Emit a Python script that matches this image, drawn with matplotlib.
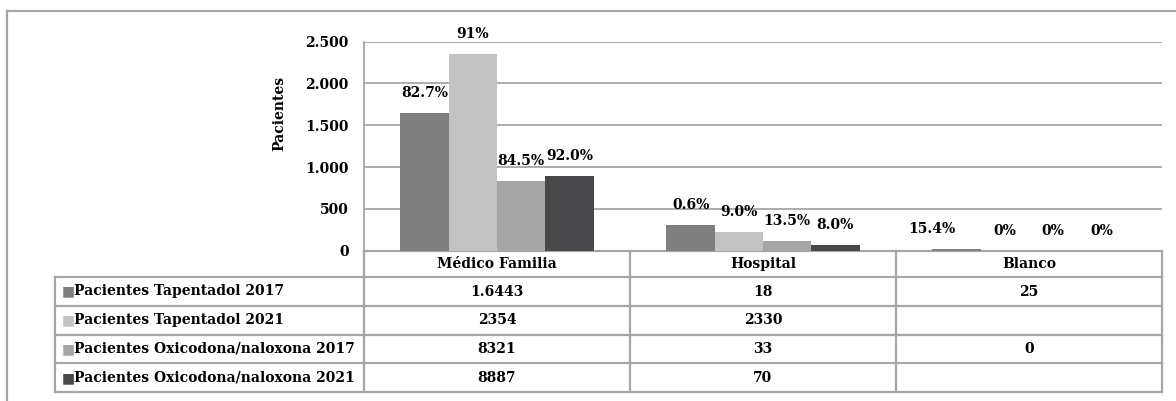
import numpy as np
import matplotlib
matplotlib.use("Agg")
import matplotlib.pyplot as plt
from matplotlib.ticker import FuncFormatter
from matplotlib.transforms import blended_transform_factory

plt.rcParams['font.family'] = ['DejaVu Serif']
plt.rcParams['font.weight'] = 'bold'

# data
categories = ["Médico Familia", "Hospital", "Blanco"]
series = ["Pacientes Tapentadol 2017", "Pacientes Tapentadol 2021",
          "Pacientes Oxicodona/naloxona 2017", "Pacientes Oxicodona/naloxona 2021"]
tap_2017 = [1644, 308, 22]
tap_2021 = [2354, 220, 0]
oxi_2017 = [832, 120, 0]
oxi_2021 = [889, 65, 0]
pct_tap_2017 = ["82.7%", "0.6%", "15.4%"]
pct_tap_2021 = ["91%", "9.0%", "0%"]
pct_oxi_2017 = ["84.5%", "13.5%", "0%"]
pct_oxi_2021 = ["92.0%", "8.0%", "0%"]
tbl_tap_2017 = ["1.6443", "18", "25"]
tbl_tap_2021 = ["2354", "2330", ""]
tbl_oxi_2017 = ["8321", "33", "0"]
tbl_oxi_2021 = ["8887", "70", ""]

values = [tap_2017, tap_2021, oxi_2017, oxi_2021]
pcts = [pct_tap_2017, pct_tap_2021, pct_oxi_2017, pct_oxi_2021]
table_rows = [tbl_tap_2017, tbl_tap_2021, tbl_oxi_2017, tbl_oxi_2021]
colors = ["#7f7f7f", "#c3c3c4", "#a5a5a5", "#48484a"]
line_col = "#a6a6a6"
fs = 10

W, H = 1176, 401
fig = plt.figure(figsize=(W / 100, H / 100), dpi=100)


def fy(y):
    return 1 - y / H


# outer chart frame (runs off the right and bottom edges)
fig.add_artist(plt.Line2D([7 / W, 1.0], [fy(11), fy(11)], color=line_col, lw=1.6))
fig.add_artist(plt.Line2D([7 / W, 7 / W], [fy(11), 0.0], color=line_col, lw=1.6))

ax_left, ax_right, ax_top, ax_bot = 364, 1162, 41.7, 250.7
ax = fig.add_axes([ax_left / W, fy(ax_bot), (ax_right - ax_left) / W, (ax_bot - ax_top) / H])

x = np.arange(len(categories))
bw = 0.1815
for i, (vals, c) in enumerate(zip(values, colors)):
    bars = ax.bar(x + (i - 1.5) * bw, vals, width=bw, color=c, zorder=3)
    for j, (b, lab) in enumerate(zip(bars, pcts[i])):
        dx = -25 if (i == 0 and j == 2) else 0
        ax.annotate(lab, (b.get_x() + b.get_width() / 2, b.get_height()),
                    xytext=(dx, 20), textcoords='offset pixels',
                    ha='center', va='center', fontsize=fs, fontweight='bold')

ax.set_xlim(-0.5, 2.5)
ax.set_ylim(0, 2500)
ax.set_yticks(np.arange(0, 2501, 500))
ax.yaxis.set_major_formatter(FuncFormatter(lambda v, p: f"{int(v):,}".replace(",", ".")))
ax.yaxis.grid(True, color=line_col, lw=1.3, zorder=0)
ax.set_xticks([])
ax.tick_params(axis='y', length=0, pad=11, labelsize=fs)
for s in ["top", "right", "bottom"]:
    ax.spines[s].set_visible(False)
ax.spines["left"].set_color(line_col)
ax.spines["left"].set_linewidth(1.3)
ax.set_ylabel("Pacientes", fontsize=fs, fontweight='bold')
ax.yaxis.set_label_coords((286 - ax_left) / (ax_right - ax_left), (ax_bot - 113) / (ax_bot - ax_top))

# data table below the plot
tr = blended_transform_factory(ax.transData, fig.transFigure)
row_y = [250.7, 277, 306, 334.5, 363.3, 392.3]
legend_left = -0.5 - (ax_left - 55) / ((ax_right - ax_left) / 3)
edges = [-0.5, 0.5, 1.5, 2.5]

# horizontal lines
ax.plot([-0.5, 2.5], [fy(row_y[0])] * 2, transform=tr, color=line_col, lw=1.6, clip_on=False)
for y in row_y[1:]:
    ax.plot([legend_left, 2.5], [fy(y)] * 2, transform=tr, color=line_col, lw=1.6, clip_on=False)
# vertical lines
for e in edges:
    ax.plot([e, e], [fy(row_y[0]), fy(row_y[-1])], transform=tr, color=line_col, lw=1.6, clip_on=False)
ax.plot([legend_left] * 2, [fy(row_y[1]), fy(row_y[-1])], transform=tr, color=line_col, lw=1.6, clip_on=False)

for j, cat in enumerate(categories):
    ax.text(x[j], fy((row_y[0] + row_y[1]) / 2), cat, transform=tr, ha='center', va='center',
            fontsize=fs, fontweight='bold')

for i, (name, row) in enumerate(zip(series, table_rows)):
    yc = fy((row_y[i + 1] + row_y[i + 2]) / 2)
    ax.text(legend_left + 0.025, yc, "\u25a0", transform=tr, ha='left', va='center',
            fontsize=10, color=colors[i], family='DejaVu Sans')
    ax.text(legend_left + 0.07, yc, name, transform=tr, ha='left', va='center',
            fontsize=fs, fontweight='bold')
    for j, val in enumerate(row):
        ax.text(x[j], yc, val, transform=tr, ha='center', va='center',
                fontsize=fs, fontweight='bold')

fig.savefig("out.png", dpi=100)
